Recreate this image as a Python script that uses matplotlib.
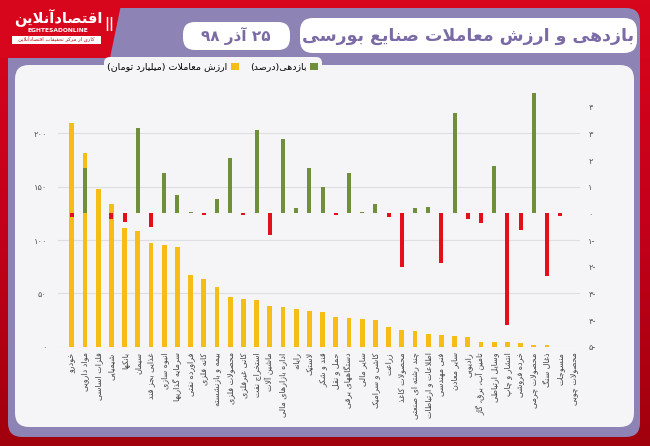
import re
import numpy as np
import matplotlib
matplotlib.use("Agg")
import matplotlib.pyplot as plt
from matplotlib.patches import FancyBboxPatch, Polygon, Rectangle
from matplotlib.ticker import FixedLocator, FuncFormatter

# ---- data ----
categories = ['خودرو', 'مواد دارویی', 'فلزات اساسی', 'شیمیایی', 'بانکها', 'سیمان',
              'غذایی بجز قند', 'انبوه سازی', 'سرمایه گذاریها', 'فراورده نفتی', 'کانه فلزی',
              'بیمه و بازنشسته', 'محصولات فلزی', 'کانی غیرفلزی', 'استخراج نفت', 'ماشین آلات',
              'اداره بازارهای مالی', 'رایانه', 'لاستیک', 'قند و شکر', 'حمل و نقل',
              'دستگاههای برقی', 'سایر مالی', 'کاشی و سرامیک', 'زراعت', 'محصولات کاغذ',
              'چند رشته ای صنعتی', 'اطلاعات و ارتباطات', 'فنی مهندسی', 'سایر معادن', 'رادیویی',
              'تامین آب، برق، گاز', 'وسایل ارتباطی', 'انتشار و چاپ', 'خرده فروشی',
              'محصولات چرمی', 'ذغال سنگ', 'منسوجات', 'محصولات چوبی']
trade_value = [209.4, 181.3, 147.6, 133.5, 111.6, 108.8, 97.5, 95.6, 93.2, 67.2, 63.8,
               55.7, 46.6, 45.0, 43.8, 38.5, 36.9, 35.0, 33.8, 32.5, 27.8, 27.2, 26.0,
               25.0, 18.8, 15.6, 14.4, 12.2, 11.0, 10.0, 8.8, 4.7, 4.1, 4.1, 3.1, 1.9,
               1.6, 0, 0]
returns = [-0.12, 1.69, 0, -0.23, -0.31, 3.19, -0.5, 1.5, 0.69, 0.06, -0.08, 0.53, 2.06,
           -0.08, 3.12, -0.81, 2.78, 0.21, 1.69, 1.0, -0.08, 1.53, 0.04, 0.34, -0.15, -2.0,
           0.21, 0.22, -1.85, 3.75, -0.22, -0.35, 1.78, -4.19, -0.62, 4.52, -2.34, -0.1, 0]
left_ticks = [0, 50, 100, 150, 200]
right_ticks = [-5, -4, -3, -2, -1, 0, 1, 2, 3, 4]

title = 'بازدهی و ارزش معاملات صنایع بورسی'
date_text = '۲۵ آذر ۹۸'
legend_value = 'ارزش معاملات (میلیارد تومان)'
legend_return = 'بازدهی(درصد)'

# ---- simple persian shaping (matplotlib does no arabic shaping) ----
# letter: (isolated, final, initial, medial)
FORMS = {
    'ا': ('\uFE8D', '\uFE8E', None, None), 'آ': ('\uFE81', '\uFE82', None, None),
    'ب': ('\uFE8F', '\uFE90', '\uFE91', '\uFE92'), 'پ': ('\uFB56', '\uFB57', '\uFB58', '\uFB59'),
    'ت': ('\uFE95', '\uFE96', '\uFE97', '\uFE98'), 'ث': ('\uFE99', '\uFE9A', '\uFE9B', '\uFE9C'),
    'ج': ('\uFE9D', '\uFE9E', '\uFE9F', '\uFEA0'), 'چ': ('\uFB7A', '\uFB7B', '\uFB7C', '\uFB7D'),
    'ح': ('\uFEA1', '\uFEA2', '\uFEA3', '\uFEA4'), 'خ': ('\uFEA5', '\uFEA6', '\uFEA7', '\uFEA8'),
    'د': ('\uFEA9', '\uFEAA', None, None), 'ذ': ('\uFEAB', '\uFEAC', None, None),
    'ر': ('\uFEAD', '\uFEAE', None, None), 'ز': ('\uFEAF', '\uFEB0', None, None),
    'ژ': ('\uFB8A', '\uFB8B', None, None),
    'س': ('\uFEB1', '\uFEB2', '\uFEB3', '\uFEB4'), 'ش': ('\uFEB5', '\uFEB6', '\uFEB7', '\uFEB8'),
    'ص': ('\uFEB9', '\uFEBA', '\uFEBB', '\uFEBC'), 'ض': ('\uFEBD', '\uFEBE', '\uFEBF', '\uFEC0'),
    'ط': ('\uFEC1', '\uFEC2', '\uFEC3', '\uFEC4'), 'ظ': ('\uFEC5', '\uFEC6', '\uFEC7', '\uFEC8'),
    'ع': ('\uFEC9', '\uFECA', '\uFECB', '\uFECC'), 'غ': ('\uFECD', '\uFECE', '\uFECF', '\uFED0'),
    'ف': ('\uFED1', '\uFED2', '\uFED3', '\uFED4'), 'ق': ('\uFED5', '\uFED6', '\uFED7', '\uFED8'),
    'ک': ('\uFB8E', '\uFB8F', '\uFB90', '\uFB91'), 'گ': ('\uFB92', '\uFB93', '\uFB94', '\uFB95'),
    'ل': ('\uFEDD', '\uFEDE', '\uFEDF', '\uFEE0'), 'م': ('\uFEE1', '\uFEE2', '\uFEE3', '\uFEE4'),
    'ن': ('\uFEE5', '\uFEE6', '\uFEE7', '\uFEE8'), 'ه': ('\uFEE9', '\uFEEA', '\uFEEB', '\uFEEC'),
    'و': ('\uFEED', '\uFEEE', None, None), 'ی': ('\uFBFC', '\uFBFD', '\uFBFE', '\uFBFF'),
    'ئ': ('\uFE89', '\uFE8A', '\uFE8B', '\uFE8C'),
}
LAM_ALEF = {'ا': ('\uFEFB', '\uFEFC'), 'آ': ('\uFEF5', '\uFEF6')}


def shape(text):
    out = []
    i = 0
    n = len(text)
    while i < n:
        c = text[i]
        if c not in FORMS:
            out.append(c)
            i += 1
            continue
        prev = text[i - 1] if i > 0 else ''
        join_prev = prev in FORMS and FORMS[prev][2] is not None
        if c == 'ل' and i + 1 < n and text[i + 1] in LAM_ALEF:
            out.append(LAM_ALEF[text[i + 1]][1 if join_prev else 0])
            i += 2
            continue
        nxt = text[i + 1] if i + 1 < n else ''
        join_next = nxt in FORMS and FORMS[c][2] is not None
        iso, fin, ini, med = FORMS[c]
        if join_prev and join_next:
            out.append(med)
        elif join_prev:
            out.append(fin)
        elif join_next:
            out.append(ini)
        else:
            out.append(iso)
        i += 1
    return ''.join(out)


def fa(text):
    s = shape(text)[::-1]
    s = s.translate(str.maketrans('()', ')('))
    return re.sub('[۰-۹0-9]+', lambda m: m.group(0)[::-1], s)


def fa_num(v):
    s = str(abs(int(v))).translate(str.maketrans('0123456789', '۰۱۲۳۴۵۶۷۸۹'))
    return s + '-' if v < 0 else s


plt.rcParams['font.family'] = ['DejaVu Sans']

yellow = '#f5bd16'
green = '#6f8f3a'
red = '#e3101b'
purple = '#8d83b5'
panel = '#f5f5f7'
title_col = '#7a6aa5'

fig = plt.figure(figsize=(6.5, 4.46), dpi=100)

# ---- background decoration in pixel coordinates ----
bg = fig.add_axes([0, 0, 1, 1])
bg.set_xlim(0, 650)
bg.set_ylim(446, 0)
bg.axis('off')
grad = np.linspace(0, 1, 100)[:, None]
bg.imshow(grad, cmap=matplotlib.colors.LinearSegmentedColormap.from_list('r', ['#d8061c', '#c4001a', '#a1000d']),
          extent=[0, 650, 446, 0], aspect='auto', zorder=0)
bg.add_patch(FancyBboxPatch((8, 8), 632, 429, boxstyle='round,pad=0,rounding_size=14',
                            fc=purple, ec='none', zorder=1))
bg.add_patch(Polygon([(0, 0), (122, 0), (110, 58), (0, 58)], fc='#d8061c', ec='none', zorder=2))
bg.add_patch(FancyBboxPatch((15, 65), 619, 362, boxstyle='round,pad=0,rounding_size=14',
                            fc=panel, ec='none', zorder=2))
bg.add_patch(FancyBboxPatch((104, 57), 218, 18, boxstyle='round,pad=0,rounding_size=6',
                            fc=panel, ec='none', zorder=2))

# title and date pills
bg.add_patch(FancyBboxPatch((300, 18), 337, 35, boxstyle='round,pad=0,rounding_size=13',
                            fc='white', ec='none', zorder=3))
bg.text(468, 36, fa(title), fontsize=12.5, fontweight='bold', color=title_col,
        ha='center', va='center', zorder=4)
bg.add_patch(FancyBboxPatch((183, 22), 107, 28, boxstyle='round,pad=0,rounding_size=12',
                            fc='white', ec='none', zorder=3))
bg.text(236, 36, fa(date_text), fontsize=11, fontweight='bold', color=title_col,
        ha='center', va='center', zorder=4)

# logo
bg.text(58, 18, fa('اقتصادآنلاین'), fontsize=10.5, fontweight='bold', color='white',
        ha='center', va='center', zorder=4)
bg.text(58, 31, 'EGHTESADONLINE', fontsize=4.3, fontweight='bold', color='white',
        ha='center', va='center', zorder=4)
bg.add_patch(Rectangle((12, 36), 89, 8, fc='white', ec='none', zorder=3))
bg.text(56, 40, fa('کاری از مرکز تحقیقات اقتصادآنلاین'), fontsize=3.8, color='#c0101a',
        ha='center', va='center', zorder=4)
bg.text(109, 24, '||', fontsize=10, fontweight='bold', color='white', ha='center', va='center', zorder=4)

# ---- chart ----
x = np.arange(len(categories))
ax = fig.add_axes([58 / 650, (446 - 346.7) / 446, 522 / 650, 266.7 / 446], zorder=5)
ax.patch.set_visible(False)
bars_v = ax.bar(x, trade_value, width=0.36, color=yellow, zorder=2)
ax.set_ylim(0, 250)
ax.set_xlim(-1.04, 38.5)
ax.yaxis.set_major_locator(FixedLocator(left_ticks))
ax.yaxis.set_major_formatter(FuncFormatter(lambda v, p: fa_num(v)))
ax.grid(axis='y', color='#dedee2', lw=0.8, zorder=0)
ax.set_axisbelow(True)
ax.set_xticks(x)
ax.set_xticklabels([fa(c) for c in categories], rotation=90, fontsize=5.8, color='#444')
for s in ax.spines.values():
    s.set_visible(False)
ax.tick_params(length=0)
ax.tick_params(axis='y', labelsize=6, colors='#555', pad=8)
ax.tick_params(axis='x', pad=4)

ax2 = ax.twinx()
ax2.patch.set_visible(False)
ret_colors = [green if r >= 0 else red for r in returns]
bars_r = ax2.bar(x, returns, width=0.3, color=ret_colors, zorder=3)
ax2.set_ylim(-5, 5)
ax2.yaxis.set_major_locator(FixedLocator(right_ticks))
ax2.yaxis.set_major_formatter(FuncFormatter(lambda v, p: fa_num(v)))
for s in ax2.spines.values():
    s.set_visible(False)
ax2.tick_params(length=0, labelsize=6, colors='#555', pad=6)

# legend (right-to-left: marker after text)
h_val = Rectangle((0, 0), 1, 1, fc=yellow)
h_ret = Rectangle((0, 0), 1, 1, fc=green)
fig.legend([h_val, h_ret], [fa(legend_value), fa(legend_return)], ncol=2, markerfirst=False,
           loc='center right', bbox_to_anchor=(318 / 650, 1 - 67 / 446), frameon=False,
           fontsize=6.8, handlelength=0.8, handleheight=0.8, handletextpad=0.4,
           columnspacing=1.2, borderaxespad=0, borderpad=0)

fig.savefig('out.png', dpi=100)
